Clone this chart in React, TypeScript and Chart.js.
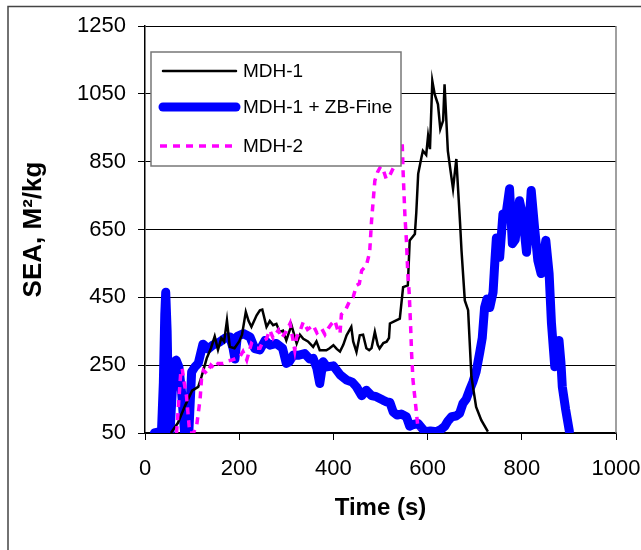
import React, { useEffect, useRef } from "react";
import { Chart, registerables } from "chart.js";
Chart.register(...registerables);

// ---- data ----
const seriesLabels = ["MDH-1", "MDH-1 + ZB-Fine", "MDH-2"];

const mdh1Time = [55, 70, 85, 100, 113, 120, 127, 131, 140, 148, 155, 162, 168, 174, 180, 190, 200, 206, 214, 220, 226, 237, 244, 249, 258, 265, 272, 279, 286, 293, 300, 311, 322, 329, 336, 346, 357, 364, 371, 385, 392, 400, 407, 414, 421, 428, 438, 442, 449, 456, 463, 470, 476, 481, 488, 494, 498, 506, 513, 518, 520, 530, 541, 548, 558, 562, 573, 576, 580, 587, 590, 597, 601, 605, 610, 615, 622, 627, 633, 636, 643, 649, 654, 661, 669, 672, 679, 686, 693, 703, 714, 728];
const mdh1Sea = [50, 80, 130, 175, 186, 216, 250, 270, 300, 335, 295, 330, 320, 382, 304, 300, 320, 340, 407, 380, 363, 397, 412, 414, 363, 380, 368, 372, 348, 352, 323, 368, 314, 340, 328, 320, 304, 320, 294, 294, 300, 309, 298, 290, 310, 338, 363, 320, 289, 338, 340, 300, 294, 300, 348, 310, 299, 315, 319, 330, 373, 380, 387, 480, 485, 618, 637, 700, 814, 863, 882, 870, 926, 887, 1088, 1049, 1019, 946, 971, 1078, 882, 820, 770, 858, 667, 588, 441, 412, 216, 127, 88, 54];

const zbTime = [20, 35, 39, 42, 44, 47, 50, 53, 57, 61, 66, 72, 78, 84, 93, 99, 106, 113, 123, 134, 145, 158, 170, 180, 187, 191, 196, 209, 223, 233, 244, 255, 265, 279, 292, 300, 306, 315, 325, 339, 350, 357, 365, 371, 378, 386, 400, 414, 428, 440, 449, 460, 470, 481, 491, 505, 513, 520, 527, 535, 544, 555, 562, 570, 580, 594, 606, 619, 628, 636, 643, 651, 660, 668, 675, 682, 689, 696, 703, 711, 716, 721, 726, 732, 739, 743, 746, 753, 760, 767, 774, 780, 786, 795, 802, 810, 815, 820, 827, 834, 841, 846, 851, 858, 863, 870, 875, 879, 883, 886, 893, 901];
const zbSea = [50, 55, 200, 400, 465, 350, 120, 50, 150, 255, 265, 245, 165, 50, 50, 230, 245, 255, 312, 298, 310, 318, 330, 333, 300, 268, 335, 343, 333, 299, 295, 323, 309, 314, 300, 255, 260, 280, 279, 284, 268, 270, 240, 196, 260, 245, 248, 222, 206, 200, 186, 160, 176, 160, 157, 147, 142, 140, 112, 103, 106, 98, 70, 75, 78, 54, 56, 54, 60, 69, 85, 98, 100, 108, 137, 150, 176, 200, 230, 290, 330, 420, 445, 420, 465, 560, 625, 568, 696, 700, 770, 608, 620, 735, 690, 583, 660, 765, 657, 559, 520, 570, 618, 520, 373, 245, 260, 323, 260, 186, 120, 55];

const mdh2Time = [67, 72, 76, 79, 83, 88, 95, 103, 110, 117, 120, 124, 131, 140, 148, 155, 166, 175, 184, 194, 201, 208, 216, 226, 230, 237, 244, 251, 258, 265, 272, 283, 290, 300, 308, 318, 322, 329, 336, 345, 353, 357, 365, 375, 382, 389, 395, 403, 410, 414, 417, 425, 435, 442, 449, 455, 460, 470, 477, 481, 488, 494, 500, 506, 512, 518, 525, 535, 541, 546, 548, 552, 555, 558, 561, 564, 566, 569, 575, 580];
const mdh2Sea = [50, 150, 230, 240, 200, 160, 50, 50, 75, 150, 210, 235, 225, 250, 240, 255, 255, 262, 265, 270, 274, 290, 265, 314, 309, 300, 300, 323, 328, 353, 330, 353, 330, 350, 373, 294, 333, 350, 377, 355, 363, 368, 345, 358, 340, 358, 370, 382, 350, 343, 400, 410, 441, 451, 485, 490, 529, 544, 583, 676, 794, 820, 835, 825, 800, 805, 825, 850, 900, 910, 820, 686, 618, 520, 461, 363, 285, 206, 127, 59];

const xMin = 0;
const xMax = 1000;
const xStep = 200;
const yTickValues = [50, 250, 450, 650, 850, 1050, 1250];

const FONT = "'Liberation Sans', Arial, Helvetica, sans-serif";

function pts(t: number[], v: number[]) {
  return t.map((x, i) => ({ x, y: v[i] }));
}

const framePlugin = {
  id: "frame",
  beforeDraw(chart: any) {
    const { ctx, width, height } = chart;
    ctx.save();
    ctx.fillStyle = "#fff";
    ctx.fillRect(0, 0, width, height);
    ctx.strokeStyle = "#444";
    ctx.lineWidth = 1.5;
    ctx.beginPath();
    ctx.moveTo(8, height);
    ctx.lineTo(8, 6.5);
    ctx.lineTo(width, 6.5);
    ctx.stroke();
    ctx.restore();
  },
  beforeDatasetsDraw(chart: any) {
    const { ctx, chartArea } = chart;
    ctx.save();
    ctx.strokeStyle = "#808080";
    ctx.lineWidth = 1.5;
    ctx.beginPath();
    ctx.moveTo(chartArea.right, chartArea.top);
    ctx.lineTo(chartArea.right, chartArea.bottom);
    ctx.stroke();
    ctx.restore();
  },
};

const legendPlugin = {
  id: "boxLegend",
  afterDatasetsDraw(chart: any) {
    const ctx = chart.ctx;
    const x0 = 151, y0 = 52, w = 250, h = 114;
    ctx.save();
    ctx.fillStyle = "#fff";
    ctx.fillRect(x0, y0, w, h);
    ctx.strokeStyle = "#777";
    ctx.lineWidth = 1.5;
    ctx.strokeRect(x0, y0, w, h);
    const rows = [71, 107, 146];
    chart.data.datasets.forEach((ds: any, i: number) => {
      const y = rows[i];
      const dashed = ds.borderDash && ds.borderDash.length;
      ctx.save();
      ctx.strokeStyle = ds.borderColor;
      ctx.lineWidth = ds.borderWidth;
      ctx.lineCap = dashed ? "butt" : "round";
      ctx.setLineDash(ds.borderDash || []);
      ctx.beginPath();
      ctx.moveTo(dashed ? 160 : 163, y);
      ctx.lineTo(dashed ? 232 : 236, y);
      ctx.stroke();
      ctx.restore();
      ctx.fillStyle = "#000";
      ctx.font = `19px ${FONT}`;
      ctx.textBaseline = "middle";
      ctx.textAlign = "left";
      ctx.fillText(ds.label, 243, y + 1);
    });
    ctx.restore();
  },
};

export default function App() {
  const ref = useRef<HTMLCanvasElement>(null);
  useEffect(() => {
    if (!ref.current) return;
    const chart = new Chart(ref.current, {
      type: "line",
      data: {
        datasets: [
          {
            label: seriesLabels[0],
            data: pts(mdh1Time, mdh1Sea),
            borderColor: "#000000",
            borderWidth: 2.5,
            pointRadius: 0,
            tension: 0,
            order: 1,
          },
          {
            label: seriesLabels[1],
            data: pts(zbTime, zbSea),
            borderColor: "#0000FF",
            borderWidth: 9,
            pointRadius: 0,
            tension: 0,
            borderJoinStyle: "round",
            borderCapStyle: "round",
            order: 2,
          },
          {
            label: seriesLabels[2],
            data: pts(mdh2Time, mdh2Sea),
            borderColor: "#FF00FF",
            borderWidth: 3.5,
            borderDash: [7, 6],
            pointRadius: 0,
            tension: 0,
            order: 0,
          },
        ] as any,
      },
      options: {
        responsive: false,
        animation: false,
        layout: { padding: { top: 26, right: 25, left: 0, bottom: 0 } },
        plugins: { legend: { display: false }, tooltip: { enabled: false } },
        scales: {
          x: {
            type: "linear",
            min: xMin,
            max: xMax,
            ticks: {
              stepSize: xStep,
              color: "#000",
              font: { family: FONT, size: 22 },
              padding: 16,
              maxRotation: 0,
              callback: (v: any) => String(v),
            },
            grid: { drawOnChartArea: false, drawTicks: true, tickLength: 7, color: "#000", lineWidth: 1 },
            border: { display: true, color: "#000", width: 1.5 },
            title: {
              display: true,
              text: "Time (s)",
              color: "#000",
              font: { family: FONT, size: 24, weight: "bold" },
              padding: { top: 0, bottom: 27 },
            },
            afterFit: (s: any) => {
              s.height = 117;
              s.paddingLeft = 0;
              s.paddingRight = 0;
            },
          },
          y: {
            type: "linear",
            min: yTickValues[0],
            max: yTickValues[yTickValues.length - 1],
            afterBuildTicks: (s: any) => {
              s.ticks = yTickValues.map((v) => ({ value: v }));
            },
            ticks: {
              color: "#000",
              font: { family: FONT, size: 22 },
              padding: 12,
              callback: (v: any) => String(v),
            },
            grid: { drawOnChartArea: true, drawTicks: true, tickLength: 7, color: "#000", lineWidth: 1 },
            border: { display: true, color: "#000", width: 1.5 },
            title: {
              display: true,
              text: "SEA, M²/kg",
              color: "#000",
              font: { family: FONT, size: 26, weight: "bold" },
              padding: { top: 18, bottom: 0 },
            },
            afterFit: (s: any) => {
              s.width = 145;
              s.paddingTop = 0;
              s.paddingBottom = 0;
            },
          },
        },
      } as any,
      plugins: [framePlugin, legendPlugin],
    });
    return () => chart.destroy();
  }, []);
  return (
    <div style={{ position: "absolute", left: 0, top: 0, width: 641, height: 550 }}>
      <canvas ref={ref} width={641} height={550} style={{ width: 641, height: 550, display: "block" }} />
    </div>
  );
}
